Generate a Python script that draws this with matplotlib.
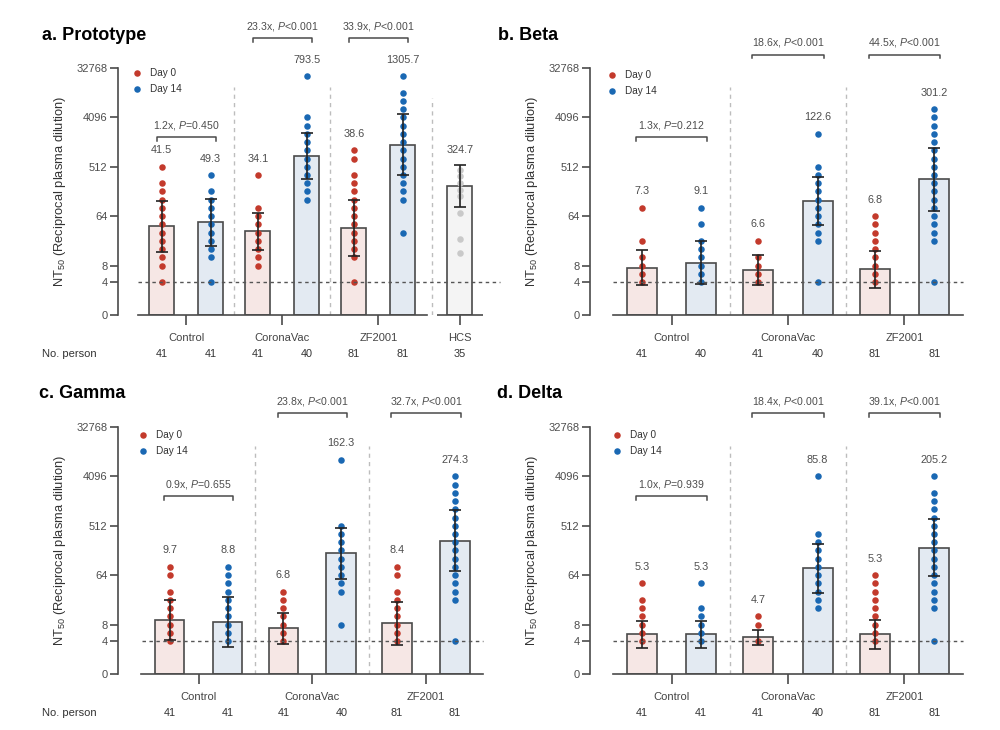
import numpy as np
import matplotlib
matplotlib.use("Agg")
import matplotlib.pyplot as plt

plt.rcParams['font.family'] = ['Liberation Sans', 'DejaVu Sans']
plt.rcParams['mathtext.fontset'] = 'custom'
plt.rcParams['mathtext.rm'] = 'Liberation Sans'
plt.rcParams['mathtext.it'] = 'Liberation Sans:italic'

groups = ["Control", "CoronaVac", "ZF2001"]
ytick_vals = [1, 4, 8, 64, 512, 4096, 32768]
ytick_text = ["0", "4", "8", "64", "512", "4096", "32768"]

# bar order: Control d0, Control d14, CoronaVac d0, CoronaVac d14, ZF2001 d0, ZF2001 d14
# geometric mean titres
a_gmt = [41.5, 49.3, 34.1, 793.5, 38.6, 1305.7]
b_gmt = [7.3, 9.1, 6.6, 122.6, 6.8, 301.2]
c_gmt = [9.7, 8.8, 6.8, 162.3, 8.4, 274.3]
d_gmt = [5.3, 5.3, 4.7, 85.8, 5.3, 205.2]

# error bar fold (geometric SD)
a_gsd = [2.97, 2.69, 2.17, 2.64, 3.29, 3.56]
b_gsd = [2.07, 2.46, 1.87, 2.77, 2.14, 3.73]
c_gsd = [2.30, 2.87, 1.93, 2.93, 2.46, 3.63]
d_gsd = [1.79, 1.79, 1.37, 2.83, 1.82, 3.34]

# individual titres (visible levels)
a_dots = [
    [512, 256, 181, 128, 90.5, 64, 45.3, 32, 22.6, 16, 11.3, 8, 4],
    [362, 181, 128, 90.5, 64, 45.3, 32, 22.6, 16, 11.3, 4],
    [362, 90.5, 64, 45.3, 32, 22.6, 16, 11.3, 8],
    [23170, 4096, 2896, 2048, 1448, 1024, 724, 512, 362, 256, 181, 128],
    [1024, 724, 362, 256, 181, 128, 90.5, 64, 45.3, 32, 22.6, 16, 11.3, 4],
    [23170, 11585, 8192, 5793, 4096, 2896, 2048, 1448, 1024, 724, 512, 362, 256, 181, 128, 32],
]
b_dots = [
    [90.5, 22.6, 11.3, 8, 5.7, 4],
    [90.5, 45.3, 22.6, 16, 11.3, 8, 5.7, 4],
    [22.6, 11.3, 8, 5.7, 4],
    [2048, 512, 362, 256, 181, 128, 90.5, 64, 45.3, 32, 22.6, 4],
    [64, 45.3, 32, 22.6, 16, 11.3, 8, 5.7, 4],
    [5793, 4096, 2896, 2048, 1448, 1024, 724, 512, 362, 256, 181, 128, 90.5, 64, 45.3, 32, 22.6, 4],
]
c_dots = [
    [90.5, 64, 32, 22.6, 16, 11.3, 8, 5.7, 4],
    [90.5, 64, 45.3, 32, 22.6, 16, 11.3, 8, 5.7, 4],
    [32, 22.6, 16, 11.3, 8, 5.7, 4],
    [8192, 512, 362, 256, 181, 128, 90.5, 64, 45.3, 32, 8],
    [90.5, 64, 32, 22.6, 16, 11.3, 8, 5.7, 4],
    [4096, 2896, 2048, 1448, 1024, 724, 512, 362, 256, 181, 128, 90.5, 64, 45.3, 32, 22.6, 4],
]
d_dots = [
    [45.3, 22.6, 16, 11.3, 8, 5.7, 4],
    [45.3, 16, 11.3, 8, 5.7, 4],
    [11.3, 8, 4],
    [4096, 362, 256, 181, 128, 90.5, 64, 45.3, 32, 22.6, 16],
    [64, 45.3, 32, 22.6, 16, 11.3, 8, 5.7, 4],
    [4096, 2048, 1448, 1024, 724, 512, 362, 256, 181, 128, 90.5, 64, 45.3, 32, 22.6, 16, 4],
]

a_n = [41, 41, 41, 40, 81, 81]
b_n = [41, 40, 41, 40, 81, 81]
c_n = [41, 41, 41, 40, 81, 81]
d_n = [41, 41, 41, 40, 81, 81]

a_fold = ["1.2", "23.3", "33.9"]
b_fold = ["1.3", "18.6", "44.5"]
c_fold = ["0.9", "23.8", "32.7"]
d_fold = ["1.0", "18.4", "39.1"]
a_p = ["=0.450", "<0.001", "<0.001"]
b_p = ["=0.212", "<0.001", "<0.001"]
c_p = ["=0.655", "<0.001", "<0.001"]
d_p = ["=0.939", "<0.001", "<0.001"]

# healthy convalescent sera (prototype only)
hcs_bar = 228
hcs_gsd = 2.41
hcs_label = "324.7"
hcs_n = 35
hcs_dots = [446, 350, 256, 194, 147, 74, 25, 13.5]

fills = ["#f6e7e5", "#e3eaf2"]
dotcol = ["#c33a2c", "#1a68b3"]
edge = "#4a4a4a"
txtcol = "#4d4d4d"
DOT = 22


def draw_panel(ax, gmt, gsd, dots, counts, fold, pval, vac_y, xlim, line_end):
    ax.set_yscale('log', base=2)
    ax.set_ylim(1, 32768)
    ax.set_xlim(*xlim)
    xs = []
    for g in range(3):
        xs += [g - 0.255, g + 0.255]
    xtr = ax.get_xaxis_transform()
    for i, x in enumerate(xs):
        day = i % 2
        m = gmt[i]
        ax.bar(x, m - 1, bottom=1, width=0.26, color=fills[day], edgecolor=edge,
               linewidth=1.2, zorder=2)
        ax.scatter([x] * len(dots[i]), dots[i], s=DOT, color=dotcol[day],
                   linewidths=0, zorder=3, clip_on=False)
        lo, hi = m / gsd[i], m * gsd[i]
        ax.errorbar(x, m, yerr=[[m - lo], [hi - m]], color="#222222", capsize=4.5,
                    elinewidth=1.2, capthick=1.2, zorder=4)
        top = max(max(dots[i]), hi)
        ax.text(x, top * 2 ** 1.0, f"{m:.1f}", ha='center', va='center',
                fontsize=7.8, color=txtcol)
        ax.text(x, -0.158, str(counts[i]), transform=xtr, ha='center', va='center',
                fontsize=7.8, color="#333333")
    for g in range(3):
        ax.text(g, -0.093, groups[g], transform=xtr, ha='center', va='center',
                fontsize=8, color="#444444")
        yb = 2 ** 10.8 if g == 0 else vac_y
        x0, x1 = g - 0.305, g + 0.305
        drop = 2 ** -0.22
        ax.plot([x0, x0, x1, x1], [yb * drop, yb, yb, yb * drop], color=edge,
                lw=1.1, clip_on=False, solid_joinstyle='round')
        ax.text(g, yb * 2 ** 0.72, f"{fold[g]}x, $\\it{{P}}${pval[g]}", ha='center',
                va='center', fontsize=7.6, color=txtcol)
    for sx in [0.5, 1.5]:
        ax.plot([sx, sx], [1, 2 ** 13.85], color="#bdbdbd", lw=1,
                linestyle=(0, (3, 3)), zorder=1)
    ax.plot([-0.5, line_end], [4, 4], color="#555555", lw=1,
            linestyle=(0, (2.5, 2.5)), zorder=5, clip_on=False)

    ax.set_yticks(ytick_vals)
    ax.set_yticklabels(ytick_text)
    ax.yaxis.set_minor_locator(matplotlib.ticker.NullLocator())
    ax.set_xticks([0, 1, 2])
    ax.set_xticklabels([])
    ax.tick_params(axis='y', length=5.5, width=1.2, color=edge, labelsize=8,
                   labelcolor=txtcol, pad=2)
    ax.tick_params(axis='x', length=7, width=1.2, color=edge)
    for s in ['top', 'right']:
        ax.spines[s].set_visible(False)
    ax.spines['left'].set_color(edge)
    ax.spines['left'].set_linewidth(1.2)
    ax.spines['bottom'].set_color(edge)
    ax.spines['bottom'].set_linewidth(1.2)
    ax.spines['bottom'].set_bounds(-0.505, 2.505)
    ax.set_ylabel("NT$_{50}$ (Reciprocal plasma dilution)", fontsize=9.3,
                  color="#333333")


def legend(ax, fx, fy):
    for k, lab in enumerate(["Day 0", "Day 14"]):
        yy = fy - 0.065 * k
        ax.scatter([fx], [yy], s=DOT, color=dotcol[k], linewidths=0,
                   transform=ax.transAxes, clip_on=False)
        ax.text(fx + 0.035, yy, lab, transform=ax.transAxes, ha='left', va='center',
                fontsize=7.2, color="#333333")


fig = plt.figure(figsize=(10, 7.3), dpi=100)
ax_a = fig.add_axes([0.118, 0.5685, 0.366, 0.3384])
ax_b = fig.add_axes([0.590, 0.5685, 0.375, 0.3384])
ax_c = fig.add_axes([0.118, 0.0767, 0.367, 0.3384])
ax_d = fig.add_axes([0.590, 0.0767, 0.375, 0.3384])

draw_panel(ax_a, a_gmt, a_gsd, a_dots, a_n, a_fold, a_p, 2 ** 16.8, (-0.71, 3.1), 3.27)
draw_panel(ax_b, b_gmt, b_gsd, b_dots, b_n, b_fold, b_p, 2 ** 15.8, (-0.70, 2.52), 2.5)
draw_panel(ax_c, c_gmt, c_gsd, c_dots, c_n, c_fold, c_p, 2 ** 15.85, (-0.71, 2.52), 2.5)
draw_panel(ax_d, d_gmt, d_gsd, d_dots, d_n, d_fold, d_p, 2 ** 15.85, (-0.70, 2.52), 2.5)

# HCS group in panel a
xh = 2.85
ax_a.bar(xh, hcs_bar - 1, bottom=1, width=0.26, color="#f4f4f4", edgecolor=edge,
         linewidth=1.2, zorder=2)
ax_a.scatter([xh] * len(hcs_dots), hcs_dots, s=DOT, color="#c9c9c9", linewidths=0, zorder=3)
ax_a.errorbar(xh, hcs_bar, yerr=[[hcs_bar - hcs_bar / hcs_gsd], [hcs_bar * hcs_gsd - hcs_bar]],
              color="#222222", capsize=4.5, elinewidth=1.2, capthick=1.2, zorder=4)
ax_a.text(xh, max(max(hcs_dots), hcs_bar * hcs_gsd) * 2 ** 0.9, hcs_label, ha='center',
          va='center', fontsize=7.8, color=txtcol)
ax_a.plot([2.61, 3.09], [1, 1], color=edge, lw=1.2, clip_on=False, solid_capstyle='butt')
ax_a.plot([2.56, 2.56], [1, 2 ** 13.2], color="#bdbdbd", lw=1, linestyle=(0, (3, 3)), zorder=1)
ax_a.set_xticks([0, 1, 2, xh])
ax_a.set_xticklabels([])
xtr = ax_a.get_xaxis_transform()
ax_a.text(xh, -0.093, "HCS", transform=xtr, ha='center', va='center', fontsize=8, color="#444444")
ax_a.text(xh, -0.158, str(hcs_n), transform=xtr, ha='center', va='center', fontsize=7.8,
          color="#333333")

for ax, w in [(ax_a, 366), (ax_b, 375), (ax_c, 367), (ax_d, 375)]:
    ax.yaxis.set_label_coords(-50 / w, 0.5)

legend(ax_a, 0.052, 0.98)
legend(ax_b, 0.059, 0.972)
legend(ax_c, 0.068, 0.968)
legend(ax_d, 0.072, 0.968)

fig.text(0.042, 1 - 35 / 730, "a. Prototype", fontsize=13, fontweight='bold', va='center')
fig.text(0.498, 1 - 35 / 730, "b. Beta", fontsize=13, fontweight='bold', va='center')
fig.text(0.039, 1 - 394 / 730, "c. Gamma", fontsize=13, fontweight='bold', va='center')
fig.text(0.497, 1 - 394 / 730, "d. Delta", fontsize=13, fontweight='bold', va='center')
fig.text(0.042, 1 - 354 / 730, "No. person", fontsize=8, va='center', color="#333333")
fig.text(0.042, 1 - 713 / 730, "No. person", fontsize=8, va='center', color="#333333")

fig.savefig("out.png", dpi=100)
